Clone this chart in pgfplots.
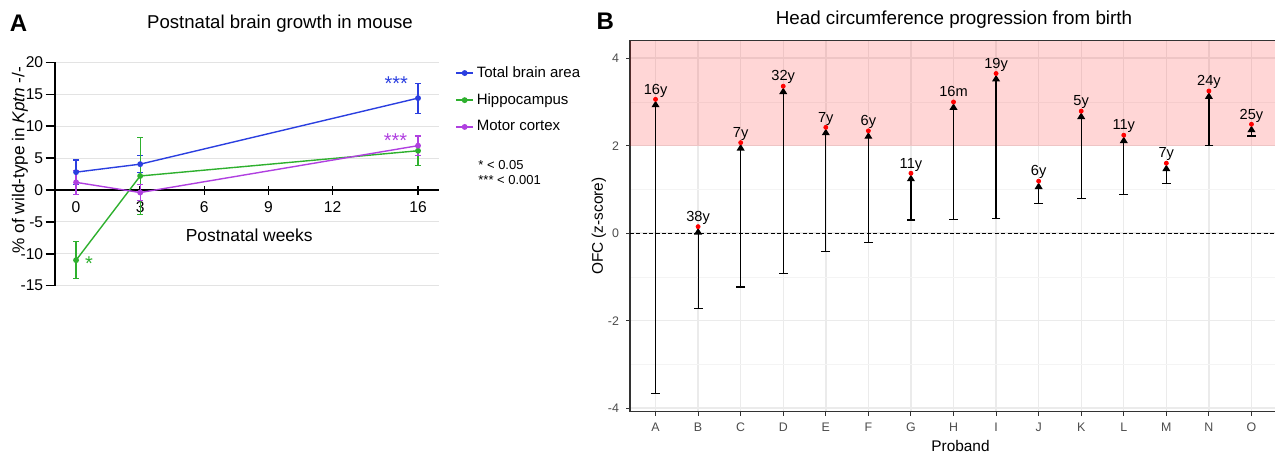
\documentclass[border=0pt]{standalone}
\usepackage{pgfplots}
\pgfplotsset{compat=1.18}
\usepackage{pgfplotstable}
\usepackage{fontspec}
\setmainfont{Liberation Sans}
\usetikzlibrary{arrows.meta}

\definecolor{tbblue}{RGB}{43,63,224}
\definecolor{hcgreen}{RGB}{46,176,46}
\definecolor{mcpurple}{RGB}{176,64,224}

% proband, OFC z-score at birth (lo) and at last visit (hi), age at last visit
\pgfplotstableread{
x lo hi lab
0 -3.67 3.06 16y
1 -1.72 0.15 38y
2 -1.23 2.07 7y
3 -0.93 3.36 32y
4 -0.42 2.42 7y
5 -0.21 2.34 6y
6 0.30 1.37 11y
7 0.32 3.00 16m
8 0.33 3.65 19y
9 0.67 1.19 6y
10 0.80 2.79 5y
11 0.89 2.24 11y
12 1.13 1.60 7y
13 2.00 3.25 24y
14 2.22 2.49 25y
}\ofc

\begin{document}
\begin{tikzpicture}
\useasboundingbox (0,0) rectangle (637.5pt,227.5pt);
\clip (0,0) rectangle (637.5pt,227.5pt);

% ---------- panel A ----------
\node[font=\bfseries\fontsize{12}{12}\selectfont] at (9.3pt,215.8pt) {A};
\node[font=\fontsize{9.3}{10}\selectfont] at (140pt,215.5pt) {Postnatal brain growth in mouse};
\node[rotate=90, font=\fontsize{8.6}{9}\selectfont] at (10pt,147.5pt) {\% of wild-type in \textit{Kptn} -/-};

\begin{axis}[
  at={(27.35pt,84.65pt)}, anchor=south west,
  scale only axis, width=192.35pt, height=111.65pt,
  xmin=-1, xmax=17, ymin=-15, ymax=20,
  axis x line*=middle, axis y line*=left,
  xtick={0,3,6,9,12,16}, ytick={-15,-10,...,20},
  hide obscured x ticks=false, hide obscured y ticks=false,
  ymajorgrids, grid style={gray!22, line width=0.5pt},
  tick align=center, major tick length=4.5pt,
  ytick style={xshift=-2.25pt},
  tick style={black, line width=0.8pt},
  axis line style={black, line width=0.9pt},
  ticklabel style={font=\fontsize{7.8}{9}\selectfont, /pgf/number format/assume math mode=true},
  clip=false,
  legend style={at={(1.041,1.003)}, anchor=north west, draw=none, fill=none,
    font=\fontsize{7.5}{9}\selectfont, row sep=2.6pt, inner sep=0pt,
    nodes={inner xsep=1.5pt}},
  legend cell align=left,
  legend image code/.code={\draw[mark repeat=2,mark phase=2,#1] plot coordinates {(0pt,0pt) (4.2pt,0pt) (8.4pt,0pt)};},
]
\addplot[tbblue, line width=0.7pt, mark=*, mark size=1.1pt,
  error bars/.cd, y dir=both, y explicit,
  error bar style={line width=0.6pt},
  error mark options={rotate=90, mark size=1.4pt, line width=0.6pt}]
  coordinates {(0,2.8) +- (0,1.9) (3,4.05) +- (0,1.35) (16,14.4) +- (0,2.35)};
\addlegendentry{Total brain area}
\addplot[hcgreen, line width=0.7pt, mark=*, mark size=1.1pt,
  error bars/.cd, y dir=both, y explicit,
  error bar style={line width=0.6pt},
  error mark options={rotate=90, mark size=1.4pt, line width=0.6pt}]
  coordinates {(0,-11.0) +- (0,2.9) (3,2.2) +- (0,6.0) (16,6.15) +- (0,2.3)};
\addlegendentry{Hippocampus}
\addplot[mcpurple, line width=0.7pt, mark=*, mark size=1.1pt,
  error bars/.cd, y dir=both, y explicit,
  error bar style={line width=0.6pt},
  error mark options={rotate=90, mark size=1.4pt, line width=0.6pt}]
  coordinates {(0,1.2) +- (0,1.85) (3,-0.4) +- (0,1.3) (16,6.95) +- (0,1.5)};
\addlegendentry{Motor cortex}

\node[font=\fontsize{8.7}{9}\selectfont] at (axis cs:8.1,-7.1) {Postnatal weeks};
\node[tbblue, font=\fontsize{10}{10}\selectfont] at (axis cs:14.98,16.6) {***};
\node[mcpurple, font=\fontsize{10}{10}\selectfont] at (axis cs:14.95,7.75) {***};
\node[hcgreen, font=\fontsize{10}{10}\selectfont] at (axis cs:0.6,-11.5) {*};
\end{axis}

\node[anchor=west, font=\fontsize{6.5}{7}\selectfont, inner sep=0pt] at (239pt,145pt) {* < 0.05};
\node[anchor=west, font=\fontsize{6.5}{7}\selectfont, inner sep=0pt] at (239pt,137.3pt) {*** < 0.001};

% ---------- panel B ----------
\node[font=\bfseries\fontsize{12}{12}\selectfont] at (302.6pt,216.7pt) {B};
\node[font=\fontsize{9.4}{10}\selectfont] at (477pt,217.5pt) {Head circumference progression from birth};

\begin{axis}[
  at={(315pt,21.65pt)}, anchor=south west,
  scale only axis, width=323.5pt, height=185.5pt,
  xmin=-0.6, xmax=14.6, ymin=-4.08, ymax=4.4,
  xtick={0,...,14}, xticklabels={A,B,C,D,E,F,G,H,I,J,K,L,M,N,O},
  ytick={-4,-2,0,2,4}, minor ytick={-3,-1,1,3},
  grid=both,
  major grid style={gray!16, line width=0.7pt},
  minor grid style={gray!9, line width=0.35pt},
  axis line style={black!80, line width=0.6pt},
  tick align=outside, major tick length=2pt, minor tick length=0pt,
  tick style={black!80, line width=0.5pt},
  xtick pos=left, ytick pos=left,
  ticklabel style={font=\fontsize{6.2}{7}\selectfont, text=black!70,
    /pgf/number format/assume math mode=true},
  xlabel={Proband}, ylabel={OFC (z-score)},
  xlabel shift=-2.3pt, ylabel shift=-6pt,
  xlabel style={xshift=3.5pt},
  label style={font=\fontsize{7.7}{9}\selectfont},
]
\addplot[draw=none, fill=red, fill opacity=0.16, forget plot]
  coordinates {(-0.6,2) (14.6,2) (14.6,4.4) (-0.6,4.4)};
\addplot[black, line width=0.6pt, dash pattern=on 2pt off 1.2pt]
  coordinates {(-0.6,0) (14.6,0)};
\addplot[only marks, mark=*, mark size=1pt, red,
  nodes near coords, point meta=explicit symbolic,
  nodes near coords style={anchor=base, yshift=2.6pt, text=black,
    font=\fontsize{7.3}{8}\selectfont}]
  table[x=x, y=hi, meta=lab] {\ofc};
\addplot[only marks, mark=-, mark size=2.2pt, mark options={line width=0.6pt}, black]
  table[x=x, y=lo] {\ofc};
\addplot[black, line width=0.6pt, no markers, -{Triangle[width=3.9pt,length=3.3pt]},
  quiver={u=0, v=\thisrow{hi}-\thisrow{lo}-0.03}]
  table[x=x, y=lo] {\ofc};
\end{axis}
\end{tikzpicture}
\end{document}
